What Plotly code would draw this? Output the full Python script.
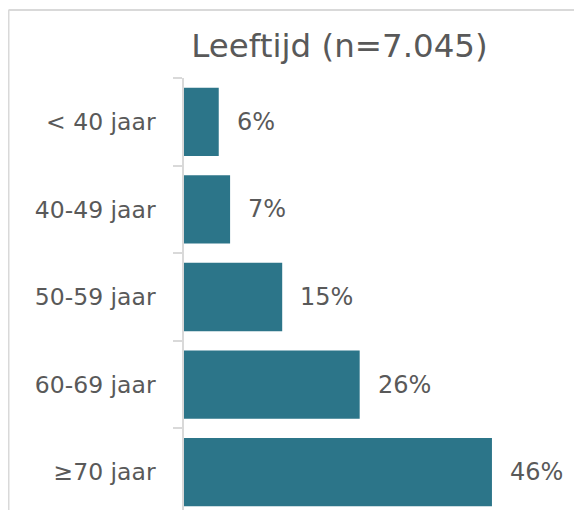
import plotly.graph_objects as go

categories = ["< 40 jaar", "40-49 jaar", "50-59 jaar", "60-69 jaar", "\u226570 jaar"]
values = [5.2, 6.9, 14.7, 26.3, 46.1]
labels = ["6%", "7%", "15%", "26%", "46%"]
title_text = "Leeftijd (n=7.045)"

# the page body adds an 8px margin, so the figure fills the remaining window
W, H = 574, 502
ml, mt, mr, mb = 176, 70, 0, 0
pw, ph = W - ml - mr, H - mt - mb
px_per_unit = 6.68
band = 87.6

FONT = "'DejaVu Sans', Verdana, sans-serif"
TXT = "#595959"
GRID = "#D9D9D9"

fig = go.Figure()
fig.add_trace(go.Bar(
    x=values, y=list(range(len(categories))), orientation="h",
    marker=dict(color="#2C7589", line=dict(width=0)),
    width=0.78, hoverinfo="skip",
))

for i, (v, lab) in enumerate(zip(values, labels)):
    fig.add_annotation(x=v, y=i, xref="x", yref="y", text=lab, showarrow=False,
                       xanchor="left", yanchor="middle", xshift=16,
                       font=dict(family=FONT, size=24, color=TXT))

# chart-area border (top and left edges visible in the crop)
x_left = (0.5 - ml) / pw
y_top = (H - 2 - mb) / ph
fig.add_shape(type="line", xref="paper", yref="paper", x0=x_left, x1=1.2, y0=y_top, y1=y_top,
              line=dict(color=GRID, width=2))
fig.add_shape(type="line", xref="paper", yref="paper", x0=x_left, x1=x_left, y0=-0.2, y1=y_top,
              line=dict(color=GRID, width=2))

fig.update_layout(
    width=W, height=H,
    margin=dict(l=ml, r=mr, t=mt, b=mb, pad=0),
    paper_bgcolor="white", plot_bgcolor="white",
    showlegend=False,
    title=dict(text=title_text, x=331.5 / W, xref="container", xanchor="center",
               y=1 - 38 / H, yref="container", yanchor="middle",
               font=dict(family=FONT, size=32.5, color=TXT)),
    xaxis=dict(range=[0, pw / px_per_unit], visible=False, fixedrange=True),
    yaxis=dict(
        tickmode="array", tickvals=list(range(len(categories))), ticktext=categories,
        range=[-0.5 + ph / band, -0.5],
        showline=True, linecolor=GRID, linewidth=1.5,
        showgrid=False, zeroline=False,
        ticks="", ticklen=9,
        tickfont=dict(family=FONT, size=23.5, color=TXT),
        ticklabelstandoff=22,
        minor=dict(tickmode="array", tickvals=[i - 0.5 for i in range(len(categories) + 1)],
                   ticks="outside", ticklen=9, tickcolor=GRID, tickwidth=1.5, showgrid=False),
    ),
    font=dict(family=FONT, color=TXT),
)

fig.write_html("out.html")
